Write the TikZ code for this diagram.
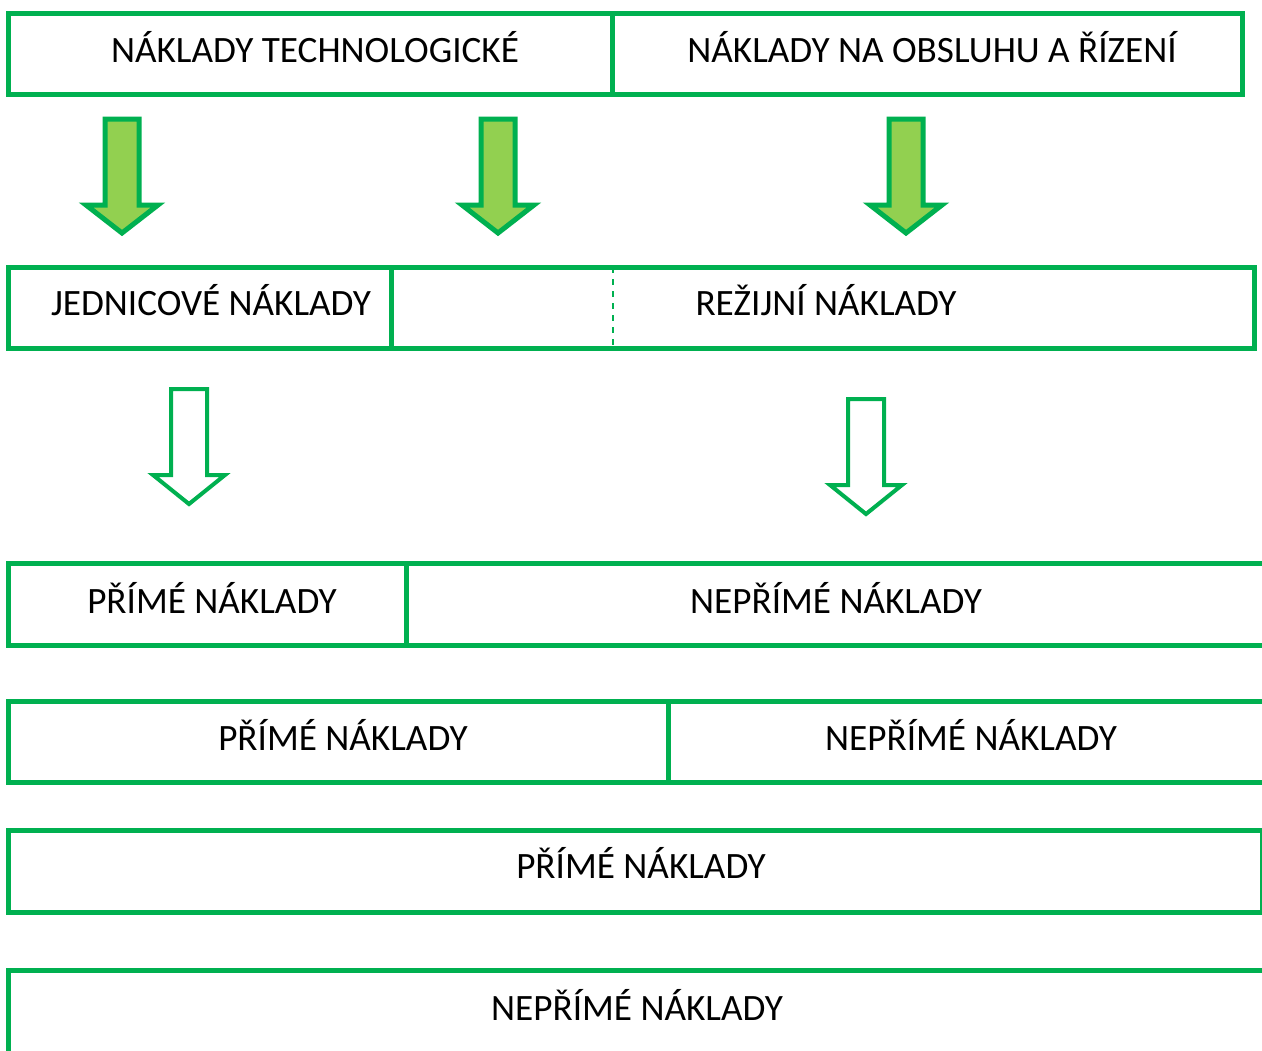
\documentclass[tikz,border=0pt]{standalone}
\usepackage{fontspec}
\setmainfont{Carlito}
\usepackage{tikz}
\usetikzlibrary{positioning}

\definecolor{zelena}{HTML}{00B050}
\definecolor{svetlezelena}{HTML}{92D050}

\tikzset{
    ramec/.style={draw=zelena, line width=2.5pt, line join=miter},
    popis/.style={anchor=base, inner sep=0pt, font=\fontsize{18.6}{22}\selectfont},
    plnasipka/.style={draw=zelena, fill=svetlezelena, line width=2.5pt, line join=miter},
    prazdnasipka/.style={draw=zelena, fill=white, line width=2pt, line join=miter}
}

\begin{document}
\begin{tikzpicture}[x=0.5pt, y=-0.5pt]

% page frame (pixels, y downwards)
\clip (0,0) rectangle (1262,1050);
\fill[white] (0,0) rectangle (1262,1050);

% Row 1: technological / operating costs
\draw[ramec] (8,13) rectangle (1242,94);
\draw[ramec] (612,13) -- (612,94);
\node[popis] (tech) at (315,62) {NÁKLADY TECHNOLOGICKÉ};
\node[popis] (obsluha) at (932,62) {NÁKLADY NA OBSLUHU A ŘÍZENÍ};

% filled arrows
\foreach \x in {122,498,906} {
    \filldraw[plnasipka] (\x-17,119) -- (\x+17,119) -- (\x+17,205) -- (\x+36,205)
        -- (\x,233) -- (\x-36,205) -- (\x-17,205) -- cycle;
}

% Row 2: unit costs / overheads
\draw[ramec] (8,267) rectangle (1254,348);
\draw[ramec] (391,267) -- (391,348);
\draw[draw=zelena, line width=1pt, dash pattern=on 3pt off 3pt] (613,267) -- (613,348);
\node[popis] (jednicove) at (211,315) {JEDNICOVÉ NÁKLADY};
\node[popis] (rezijni) at (826,315) {REŽIJNÍ NÁKLADY};

% hollow arrows
\filldraw[prazdnasipka] (171,389) -- (207,389) -- (207,475) -- (225,475)
    -- (189,504) -- (153,475) -- (171,475) -- cycle;
\filldraw[prazdnasipka] (848,399) -- (884,399) -- (884,485) -- (902,485)
    -- (866,514) -- (830,485) -- (848,485) -- cycle;

% Row 3
\draw[ramec] (8,563) rectangle (1290,645);
\draw[ramec] (406,563) -- (406,645);
\node[popis] (prime1) at (212,613) {PŘÍMÉ NÁKLADY};
\node[popis] (neprime1) at (836,613) {NEPŘÍMÉ NÁKLADY};

% Row 4
\draw[ramec] (8,701) rectangle (1290,782);
\draw[ramec] (668,701) -- (668,782);
\node[popis] (prime2) at (343,750) {PŘÍMÉ NÁKLADY};
\node[popis] (neprime2) at (971,750) {NEPŘÍMÉ NÁKLADY};

% Row 5
\draw[ramec] (8,830) rectangle (1262,912);
\node[popis] (prime3) at (641,878) {PŘÍMÉ NÁKLADY};

% Row 6
\draw[ramec] (8,970) rectangle (1290,1090);
\node[popis] (neprime3) at (637,1020) {NEPŘÍMÉ NÁKLADY};

\end{tikzpicture}
\end{document}
